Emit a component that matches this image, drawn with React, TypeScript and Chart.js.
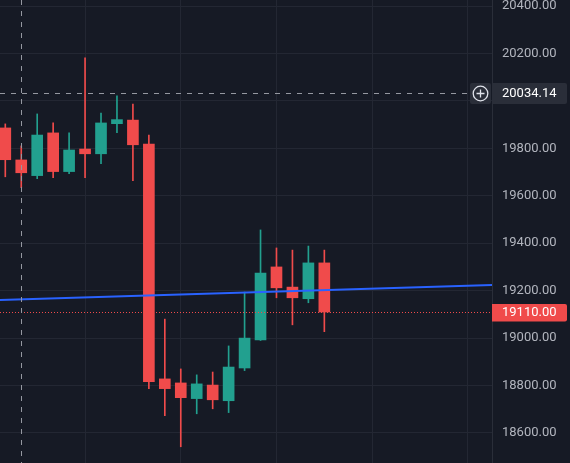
import { useEffect, useRef } from "react";
import { Chart, registerables } from "chart.js";

Chart.register(...registerables);

// ---- data ----
const candleIndex = [0, 1, 2, 3, 4, 5, 6, 7, 8, 9, 10, 11, 12, 13, 14, 15, 16, 17, 18, 19, 20];
const opens = [19886, 19751, 19685, 19865, 19702, 19797, 19777, 19904, 19919, 19818, 18828, 18811, 18745, 18802, 18736, 18874, 18992, 19300, 19215, 19166, 19317];
const highs = [19903, 19810, 19945, 19907, 19865, 20181, 19949, 20021, 19987, 19856, 19080, 18870, 18845, 18857, 18967, 19194, 19456, 19380, 19371, 19388, 19371];
const lows = [19680, 19634, 19672, 19676, 19693, 19676, 19735, 19866, 19664, 18787, 18673, 18542, 18681, 18702, 18686, 18863, 18990, 19170, 19056, 19149, 19027];
const closes = [19752, 19697, 19856, 19702, 19793, 19777, 19907, 19921, 19815, 18816, 18787, 18749, 18807, 18740, 18878, 19000, 19274, 19212, 19170, 19317, 19110];

const maX = [-1, 31];
const maValues = [19159, 19225];

const yTickStep = 200;
const xGridIndex = [5, 11, 17, 23, 29];
const crosshairIndex = 1;
const crosshairPrice = 20034.14;
const lastPrice = closes[closes.length - 1];

// ---- styles ----
const BG = "#161a25";
const GRID = "#232733";
const UP = "#22a08f";
const DOWN = "#f04b4b";
const BLUE = "#2962ff";
const TEXT = "#b2b5be";
const FONT = "Roboto";

const colorOf = (i: number) => (closes[i] >= opens[i] ? UP : DOWN);

export default function App() {
  const ref = useRef<HTMLCanvasElement | null>(null);

  useEffect(() => {
    document.body.style.margin = "0";
    document.body.style.background = BG;
    const canvas = ref.current;
    if (!canvas) return;

    const overlay = {
      id: "overlay",
      beforeDraw(chart: any) {
        const ctx = chart.ctx;
        ctx.save();
        ctx.fillStyle = BG;
        ctx.fillRect(0, 0, chart.width, chart.height);
        ctx.restore();
      },
      afterDatasetsDraw(chart: any) {
        const ctx = chart.ctx;
        const xs = chart.scales.x;
        const ys = chart.scales.y;
        const area = chart.chartArea;
        ctx.save();
        // last price dotted line
        const py = Math.round(ys.getPixelForValue(lastPrice)) + 0.5;
        ctx.strokeStyle = DOWN;
        ctx.lineWidth = 1;
        ctx.setLineDash([1, 2]);
        ctx.beginPath();
        ctx.moveTo(area.left, py);
        ctx.lineTo(area.right, py);
        ctx.stroke();

        // crosshair
        const cx = Math.round(xs.getPixelForValue(crosshairIndex)) + 0.5;
        const cy = Math.round(ys.getPixelForValue(crosshairPrice)) + 0.5;
        ctx.strokeStyle = "#9598a1";
        ctx.setLineDash([5, 6]);
        ctx.beginPath();
        ctx.moveTo(cx, area.top);
        ctx.lineTo(cx, area.bottom);
        ctx.stroke();
        ctx.beginPath();
        ctx.moveTo(area.left, cy);
        ctx.lineTo(area.right - 24, cy);
        ctx.stroke();
        ctx.setLineDash([]);

        // plus button
        ctx.fillStyle = "#2a2e39";
        ctx.beginPath();
        ctx.roundRect(area.right - 22, cy - 10.5, 21, 21, 2);
        ctx.fill();
        const bx = area.right - 11.5;
        ctx.strokeStyle = "#e0e3eb";
        ctx.lineWidth = 1.3;
        ctx.beginPath();
        ctx.arc(bx, cy, 7.3, 0, Math.PI * 2);
        ctx.stroke();
        ctx.beginPath();
        ctx.moveTo(bx - 4, cy);
        ctx.lineTo(bx + 4, cy);
        ctx.moveTo(bx, cy - 4);
        ctx.lineTo(bx, cy + 4);
        ctx.stroke();

        // crosshair price label
        ctx.fillStyle = "#2a2e39";
        ctx.beginPath();
        ctx.roundRect(area.right, cy - 10.5, 75, 21, [0, 2, 2, 0]);
        ctx.fill();
        ctx.fillStyle = "#ffffff";
        ctx.font = `13px ${FONT}`;
        ctx.textBaseline = "middle";
        ctx.textAlign = "left";
        ctx.fillText(crosshairPrice.toFixed(2), area.right + 10, cy + 0.5);

        // last price label
        ctx.fillStyle = DOWN;
        ctx.beginPath();
        ctx.roundRect(area.right, py - 8.5, 75, 17.5, [0, 2, 2, 0]);
        ctx.fill();
        ctx.fillStyle = "#ffffff";
        ctx.fillText(lastPrice.toFixed(2), area.right + 10, py + 0.5);
        ctx.restore();
      },
    };

    const chart = new Chart(canvas, {
      type: "bar",
      data: {
        datasets: [
          {
            type: "line",
            data: maX.map((x, i) => ({ x, y: maValues[i] })),
            borderColor: BLUE,
            borderWidth: 2,
            pointRadius: 0,
            order: 0,
          } as any,
          {
            data: candleIndex.map((x, i) => ({ x, y: [opens[i], closes[i]] })),
            backgroundColor: candleIndex.map((_, i) => colorOf(i)),
            barThickness: 11,
            grouped: false,
            order: 1,
          },
          {
            data: candleIndex.map((x, i) => ({ x, y: [lows[i], highs[i]] })),
            backgroundColor: candleIndex.map((_, i) => colorOf(i)),
            barThickness: 1,
            grouped: false,
            order: 2,
          },
        ],
      },
      options: {
        animation: false,
        responsive: false,
        devicePixelRatio: 1,
        layout: { padding: 0 },
        plugins: { legend: { display: false }, tooltip: { enabled: false } },
        scales: {
          x: {
            type: "linear",
            min: -0.332,
            max: 30.51,
            offset: false,
            afterBuildTicks: (s: any) => {
              s.ticks = xGridIndex.map((v) => ({ value: v }));
            },
            afterFit: (s: any) => {
              s.height = 0;
              s.paddingLeft = 0;
              s.paddingRight = 0;
              s.paddingTop = 0;
              s.paddingBottom = 0;
            },
            ticks: { display: false },
            grid: { color: GRID, drawTicks: false, offset: false },
            border: { display: false },
          },
          y: {
            position: "right",
            min: 18473.5,
            max: 20425.3,
            afterFit: (s: any) => {
              s.width = 78;
              s.paddingTop = 0;
              s.paddingBottom = 0;
              s.paddingLeft = 0;
              s.paddingRight = 0;
            },
            ticks: {
              stepSize: yTickStep,
              includeBounds: false,
              padding: 10,
              color: TEXT,
              font: { family: FONT, size: 13 },
              callback: (v: any) => Number(v).toFixed(2),
            },
            grid: { color: GRID, drawTicks: false },
            border: { display: true, color: "#2a2e39" },
          },
        },
      },
      plugins: [overlay],
    } as any);

    return () => chart.destroy();
  }, []);

  return (
    <div style={{ position: "fixed", left: 0, top: 0, width: 570, height: 463 }}>
      <canvas ref={ref} width={570} height={463} />
    </div>
  );
}
